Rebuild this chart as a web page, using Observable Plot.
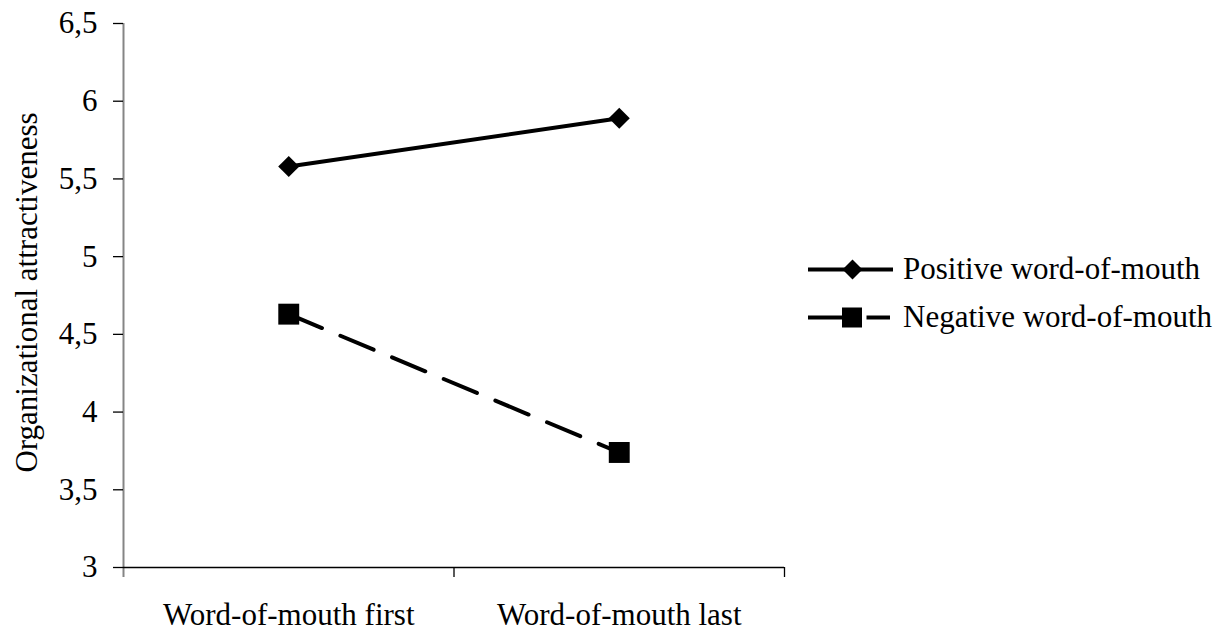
<!DOCTYPE html>
<html>
<head>
<meta charset="utf-8">
<script src="https://cdn.jsdelivr.net/npm/d3@7"></script>
<script src="https://cdn.jsdelivr.net/npm/@observablehq/plot@0.6"></script>
<style>
  html, body { margin: 0; padding: 0; background: #fff; }
  #wrap { position: relative; width: 1232px; height: 631px; }
  #legend { position: absolute; left: 0; top: 0; pointer-events: none; }
</style>
</head>
<body>
<div id="wrap"></div>
<script>
const categories = ["Word-of-mouth first", "Word-of-mouth last"];
const seriesNames = ["Positive word-of-mouth", "Negative word-of-mouth"];
const positiveValues = [5.58, 5.89];
const negativeValues = [4.63, 3.74];
const yTicks = [3, 3.5, 4, 4.5, 5, 5.5, 6, 6.5];
const yTitle = "Organizational attractiveness";

const rows = [];
categories.forEach((c, i) => {
  rows.push({series: seriesNames[0], cat: c, pos: i + 0.5, value: positiveValues[i]});
  rows.push({series: seriesNames[1], cat: c, pos: i + 0.5, value: negativeValues[i]});
});
const pos = rows.filter(d => d.series === seriesNames[0]);
const neg = rows.filter(d => d.series === seriesNames[1]);

const font = "'Liberation Serif', 'Times New Roman', serif";
const fs = 31;

const chart = Plot.plot({
  width: 1232,
  height: 631,
  marginLeft: 123,
  marginRight: 448,
  marginTop: 23,
  marginBottom: 64,
  style: {fontFamily: font, fontSize: fs + "px", color: "#000", background: "#fff"},
  x: {domain: [0, categories.length], axis: null, label: null},
  y: {domain: [3, 6.5], axis: null, label: null},
  marks: [
    // y axis line (gray), extending below the x axis
    Plot.axisX({ticks: [0], tickSize: 10, tickFormat: () => "", stroke: "#858585", strokeWidth: 2, label: null}),
    Plot.ruleX([0], {y1: 3, y2: 6.5, stroke: "#858585", strokeWidth: 2}),
    // x axis line + category boundary ticks
    Plot.ruleY([3], {stroke: "#000", strokeWidth: 1.5}),
    Plot.axisX({ticks: d3.range(1, categories.length + 1), tickSize: 10, tickFormat: () => "", stroke: "#000", strokeWidth: 1.3, label: null}),
    // category labels
    Plot.axisX({
      ticks: categories.map((c, i) => i + 0.5),
      tickSize: 0, tickPadding: 35,
      tickFormat: (d) => categories[Math.floor(d)],
      fontSize: fs, fill: "#000", label: null
    }),
    // y ticks
    Plot.axisY({
      ticks: yTicks, tickSize: 10, tickPadding: 16,
      tickFormat: d => String(d).replace(".", ","),
      fontSize: fs, stroke: "#000", strokeWidth: 1.3, fill: "#000", label: null
    }),
    Plot.text([yTitle], {frameAnchor: "left", textAnchor: "middle", rotate: -90, dx: -96, dy: -3, fontSize: fs, fill: "#000"}),
    // series
    Plot.line(pos, {x: "pos", y: "value", stroke: "#000", strokeWidth: 4}),
    Plot.line(neg, {x: "pos", y: "value", stroke: "#000", strokeWidth: 4, strokeDasharray: "36,20"}),
    Plot.dot(pos, {x: "pos", y: "value", symbol: "diamond2", r: 9.5, fill: "#000", stroke: "none"}),
    Plot.dot(neg, {x: "pos", y: "value", symbol: "square", r: 11.8, fill: "#000", stroke: "none"})
  ]
});
document.getElementById("wrap").appendChild(chart);

// legend overlay
const lg = d3.select("#wrap").append("svg")
  .attr("id", "legend").attr("width", 1232).attr("height", 631);
const items = [
  {name: seriesNames[0], y: 269.5, type: "diamond"},
  {name: seriesNames[1], y: 317.5, type: "square"}
];
items.forEach(it => {
  const g = lg.append("g");
  if (it.type === "diamond") {
    g.append("line").attr("x1", 808).attr("x2", 893).attr("y1", it.y).attr("y2", it.y)
      .attr("stroke", "#000").attr("stroke-width", 4);
    g.append("path").attr("d", d3.symbol(d3.symbolDiamond2, Math.pow(10 / 0.62625, 2))())
      .attr("transform", `translate(852.5,${it.y})`).attr("fill", "#000");
  } else {
    g.append("line").attr("x1", 808).attr("x2", 842).attr("y1", it.y).attr("y2", it.y)
      .attr("stroke", "#000").attr("stroke-width", 4);
    g.append("line").attr("x1", 866.5).attr("x2", 890).attr("y1", it.y).attr("y2", it.y)
      .attr("stroke", "#000").attr("stroke-width", 4);
    g.append("rect").attr("x", 842).attr("y", it.y - 10).attr("width", 20).attr("height", 20).attr("fill", "#000");
  }
  g.append("text").attr("x", 903).attr("y", it.y).attr("dy", "0.32em")
    .attr("font-family", font).attr("font-size", fs).attr("fill", "#000").text(it.name);
});
</script>
</body>
</html>
